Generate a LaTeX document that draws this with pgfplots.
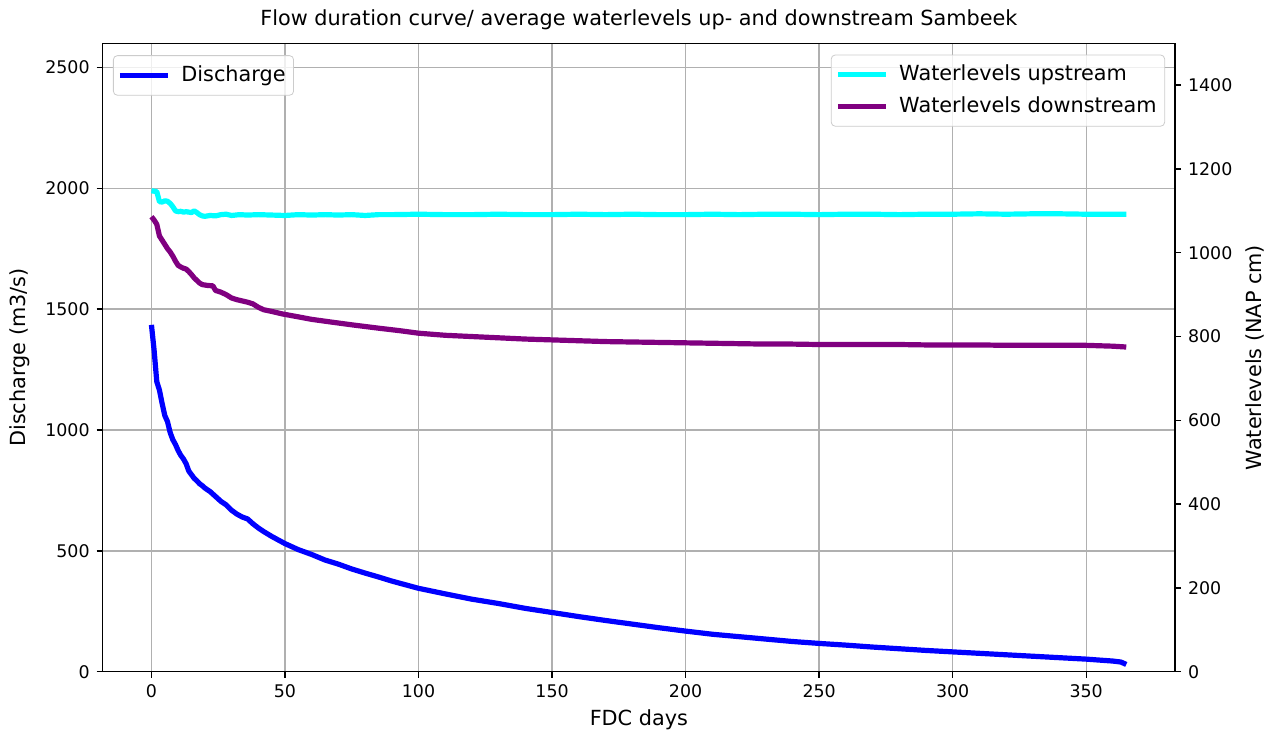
\documentclass[border=0pt]{standalone}
\usepackage{fontspec}
\setmainfont{DejaVu Sans}
\usepackage{pgfplots}
\pgfplotsset{compat=1.18}
\definecolor{dpurple}{RGB}{128,0,128}
\definecolor{pcyan}{RGB}{0,255,255}
\definecolor{pblue}{RGB}{0,0,255}
\definecolor{gridgray}{RGB}{176,176,176}
\definecolor{legframe}{RGB}{204,204,204}

\pgfplotsset{
  common/.style={
    width=536.15pt, height=314.2pt, scale only axis,
    at={(0,0)}, anchor=south west,
    xmin=-18.25, xmax=383.25,
    tick align=outside, major tick length=3pt,
    every tick/.style={black, line width=0.7pt},
    axis line style={line width=0.7pt},
    /pgf/number format/assume math mode=true,
    /pgf/number format/set thousands separator={},
    tick label style={font=\fontsize{8.7}{10}\selectfont},
    label style={font=\fontsize{10.4}{12}\selectfont},
    title style={font=\fontsize{10.4}{12}\selectfont},
    every axis title shift=0pt,
    legend image code/.code={\draw[##1] (0pt,0pt) -- (24pt,0pt);},
    legend style={font=\fontsize{10.4}{12}\selectfont, draw=legframe,
      rounded corners=2pt, fill=white, fill opacity=0.8, text opacity=1,
      inner sep=2pt, row sep=0pt,
      nodes={text height=8.4pt, text depth=2.6pt, inner ysep=2.4pt},
      /tikz/every odd column/.append style={column sep=3.4pt}},
    legend cell align=left,
  },
}

\begin{document}
\begin{tikzpicture}
% left axis: discharge
\begin{axis}[common,
    ymin=0, ymax=2600,
    ytick={0,500,...,2500},
    xtick={0,50,...,350},
    xtick pos=left, ytick pos=left,
    grid=major,
    grid style={line width=0.7pt, gridgray},
    xlabel={FDC days},
    ylabel={Discharge (m3/s)},
    title={Flow duration curve/ average waterlevels up- and downstream Sambeek},
    xlabel style={at={(axis description cs:0.5,-0.0769)}, anchor=center},
    ylabel style={at={(axis description cs:-0.0771,0.5)}, anchor=center},
    title style={at={(axis description cs:0.5,1.0371)}, anchor=center},
    legend style={at={(axis description cs:0.0096,0.981)}, anchor=north west},
]
\addplot[pblue, line width=2.6pt, line join=round] coordinates {
(0,1435) (1,1330) (2,1200) (3,1165) (4,1110) (5,1060) (6,1035) (7,990)
(8,960) (9,940) (10,915) (11,895) (12,880) (13,860) (14,830) (15,815)
(16,800) (17,790) (18,778) (19,770) (20,760) (22,745) (24,725) (26,705)
(28,690) (30,668) (32,652) (34,640) (36,632) (38,612) (40,595) (42,580)
(45,560) (48,542) (50,530) (55,505) (60,485) (65,462) (70,445) (75,425)
(80,408) (85,392) (90,375) (95,360) (100,345) (110,322) (120,300) (130,282)
(140,262) (150,245) (160,228) (170,212) (180,197) (190,182) (200,168)
(210,155) (220,145) (230,135) (240,125) (250,117) (260,110) (270,102)
(280,95) (290,88) (300,82) (310,76) (320,70) (330,64) (340,58) (350,52)
(360,44) (363,40) (365,30)
};
\addlegendentry{Discharge}
\end{axis}

% right axis: waterlevels
\begin{axis}[common,
    ymin=0, ymax=1500,
    ytick={0,200,...,1400},
    axis y line*=right, axis x line=none,
    ylabel={Waterlevels (NAP cm)},
    ylabel style={at={(axis description cs:1.0746,0.5)}, anchor=center},
    legend style={at={(axis description cs:0.9907,0.982)}, anchor=north east},
]
\addplot[pcyan, line width=2.6pt, line join=round] coordinates {
(0,1148) (1,1147) (2,1146) (3,1122) (4,1121) (5,1124) (6,1123) (7,1118)
(8,1110) (9,1100) (10,1098) (11,1099) (12,1097) (13,1098) (14,1097)
(15,1096) (16,1100) (17,1096) (18,1091) (19,1088) (20,1087) (22,1089)
(24,1088) (26,1091) (28,1092) (30,1089) (33,1091) (36,1090) (40,1091)
(45,1090) (50,1089) (55,1091) (60,1090) (65,1091) (70,1090) (75,1091)
(80,1089) (85,1091) (90,1091) (100,1092) (110,1091) (120,1091) (130,1092)
(140,1091) (150,1091) (160,1092) (170,1091) (180,1092) (190,1091)
(200,1091) (210,1092) (220,1091) (230,1092) (240,1092) (250,1091)
(260,1092) (270,1092) (280,1091) (290,1092) (300,1092) (310,1093)
(320,1092) (330,1093) (340,1093) (350,1092) (360,1092) (365,1092)
};
\addlegendentry{Waterlevels upstream}
\addplot[dpurple, line width=2.6pt, line join=round] coordinates {
(0,1086) (1,1078) (2,1068) (3,1040) (4,1030) (5,1020) (6,1010) (7,1002)
(8,992) (9,980) (10,970) (11,966) (12,963) (13,961) (14,955) (15,948)
(16,940) (17,934) (18,928) (19,924) (21,922) (23,921) (24,910) (26,906)
(28,900) (30,892) (32,888) (34,885) (36,882) (38,878) (40,870) (42,864)
(45,860) (49,854) (55,847) (60,841) (68,834) (75,828) (85,820) (93,814)
(100,808) (110,803) (120,800) (130,797) (140,794) (150,792) (160,790)
(170,788) (180,787) (190,786) (200,785) (210,784) (220,783) (230,782)
(240,782) (250,781) (260,781) (270,781) (280,781) (290,780) (300,780)
(310,780) (320,779) (330,779) (340,779) (350,779) (360,777) (365,775)
};
\addlegendentry{Waterlevels downstream}
\end{axis}
\pgfresetboundingbox
\path[use as bounding box] (-51.35pt,-31.15pt) rectangle (585.65pt,335.85pt);
\end{tikzpicture}
\end{document}
